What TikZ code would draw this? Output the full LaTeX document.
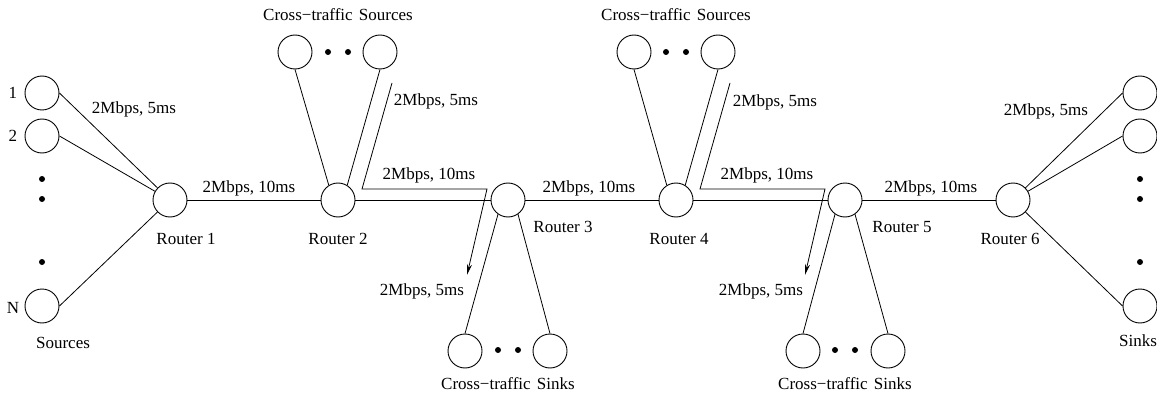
\documentclass[tikz,border=0pt]{standalone}
\usepackage{fontspec}
\setmainfont{Liberation Serif}
\usetikzlibrary{arrows.meta}
\begin{document}
\begin{tikzpicture}[x=1pt,y=-1pt,
  host/.style={circle,draw,minimum size=34pt,inner sep=0pt,line width=0.9pt},
  lbl/.style={font=\fontsize{17}{20}\selectfont,inner sep=0pt},
  dotn/.style={circle,fill,minimum size=6pt,inner sep=0pt},
  link/.style={line width=0.8pt},
  flow/.style={line width=0.8pt,-{Stealth[length=11pt,width=5pt]}}]
\useasboundingbox (0,0) rectangle (1157,393);
% routers
\node[host] (r1) at (170,200) {};
\node[host] (r2) at (338,200) {};
\node[host] (r3) at (508,200) {};
\node[host] (r4) at (676,200) {};
\node[host] (r5) at (845,200) {};
\node[host] (r6) at (1013,200) {};
% sources
\node[host] (s1) at (42,93) {};
\node[host] (s2) at (42,136) {};
\node[host] (sN) at (42,306) {};
\node[dotn] (sd1) at (42,179) {};
\node[dotn] (sd2) at (42,199) {};
\node[dotn] (sd3) at (42,262) {};
% sinks
\node[host] (k1) at (1140,93) {};
\node[host] (k2) at (1140,136) {};
\node[host] (kN) at (1140,306) {};
\node[dotn] (kd1) at (1140,179) {};
\node[dotn] (kd2) at (1140,199) {};
\node[dotn] (kd3) at (1140,262) {};
% cross-traffic sources
\node[host] (a1) at (295,52) {};
\node[host] (a2) at (380,52) {};
\node[dotn] (ad1) at (328,52) {};
\node[dotn] (ad2) at (348,52) {};
\node[host] (b1) at (634,52) {};
\node[host] (b2) at (718,52) {};
\node[dotn] (bd1) at (666,52) {};
\node[dotn] (bd2) at (686,52) {};
% cross-traffic sinks
\node[host] (c1) at (465,351) {};
\node[host] (c2) at (550,351) {};
\node[dotn] (cd1) at (498,350) {};
\node[dotn] (cd2) at (518,350) {};
\node[host] (d1) at (803,351) {};
\node[host] (d2) at (888,351) {};
\node[dotn] (dd1) at (835,350) {};
\node[dotn] (dd2) at (855,350) {};
% links
\draw[link] (s1.east) -- (r1);
\draw[link] (s2.east) -- (r1);
\draw[link] (sN.east) -- (r1);
\draw[link] (r1) -- (r2);
\draw[link] (r2) -- (r3);
\draw[link] (r3) -- (r4);
\draw[link] (r4) -- (r5);
\draw[link] (r5) -- (r6);
\draw[link] (r6) -- (k1.west);
\draw[link] (r6) -- (k2.west);
\draw[link] (r6) -- (kN.west);
\draw[link] (a1.south) -- (r2.122);
\draw[link] (a2.south) -- (r2.58);
\draw[link] (b1.south) -- (r4.122);
\draw[link] (b2.south) -- (r4.58);
\draw[link] (r3.-125) -- (c1.north);
\draw[link] (r3.-55) -- (c2.north);
\draw[link] (r5.-125) -- (d1.north);
\draw[link] (r5.-55) -- (d2.north);
% flow arrows
\coordinate (f1a) at (392,83);
\coordinate (f1b) at (362,189);
\coordinate (f1c) at (487,189);
\coordinate (f1d) at (467,275);
\draw[flow] (f1a) -- (f1b) -- (f1c) -- (f1d);
\coordinate (f2a) at (730,83);
\coordinate (f2b) at (700,189);
\coordinate (f2c) at (825,189);
\coordinate (f2d) at (805,275);
\draw[flow] (f2a) -- (f2b) -- (f2c) -- (f2d);
% labels
\node[lbl] (l1) at (13,93) {1};
\node[lbl] (l2) at (13,136) {2};
\node[lbl] (lN) at (13,308) {N};
\node[lbl] (lsrc) at (63,343) {Sources};
\node[lbl] (lsnk) at (1138,341) {Sinks};
\node[lbl] (e1) at (134,109) {2Mbps, 5ms};
\node[lbl] (e2) at (1046,111) {2Mbps, 5ms};
\node[lbl] (m1) at (249,188) {2Mbps, 10ms};
\node[lbl] (m2) at (589,188) {2Mbps, 10ms};
\node[lbl] (m3) at (931,188) {2Mbps, 10ms};
\node[lbl] (u1) at (429,175) {2Mbps, 10ms};
\node[lbl] (u2) at (767,175) {2Mbps, 10ms};
\node[lbl] (v1) at (436,101) {2Mbps, 5ms};
\node[lbl] (v2) at (775,102) {2Mbps, 5ms};
\node[lbl] (w1) at (422,291) {2Mbps, 5ms};
\node[lbl] (w2) at (761,291) {2Mbps, 5ms};
\node[lbl] (lr1) at (186,239) {Router 1};
\node[lbl] (lr2) at (338,239) {Router 2};
\node[lbl] (lr3) at (563,227) {Router 3};
\node[lbl] (lr4) at (679,239) {Router 4};
\node[lbl] (lr5) at (902,227) {Router 5};
\node[lbl] (lr6) at (1010,239) {Router 6};
\node[lbl] (ct1) at (338,15) {Cross−traffic\hspace{2pt} Sources};
\node[lbl] (ct2) at (676,15) {Cross−traffic\hspace{2pt} Sources};
\node[lbl] (ck1) at (508,384) {Cross−traffic\hspace{2pt} Sinks};
\node[lbl] (ck2) at (845,384) {Cross−traffic\hspace{2pt} Sinks};
\end{tikzpicture}
\end{document}
